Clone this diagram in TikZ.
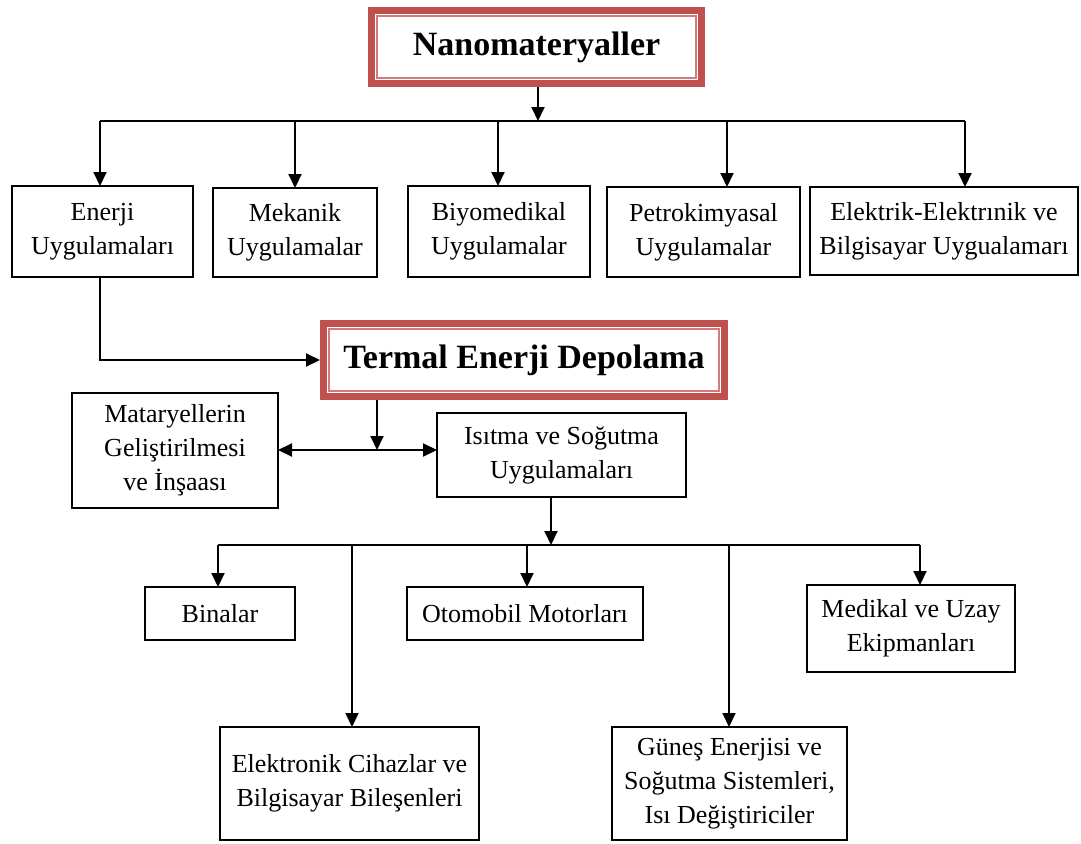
\documentclass[tikz,border=0pt]{standalone}
\usepackage{fontspec}
\setmainfont{Liberation Serif}
\usetikzlibrary{arrows.meta}
\definecolor{frame}{RGB}{192,80,77}
\begin{document}
\begin{tikzpicture}[x=1pt,y=-1pt,
  box/.style={draw, line width=2.2pt, align=center, inner sep=0pt, outer sep=0pt,
    font=\fontsize{26}{34}\selectfont},
  title/.style={draw=frame, line width=7pt, align=center, inner sep=0pt,
    font=\fontsize{34}{40}\selectfont\bfseries},
  inner/.style={draw=frame!75, line width=1.6pt},
  conn/.style={line width=2pt},
  arr/.style={line width=2pt, -{Triangle[width=13pt,length=14pt]}},
  darr/.style={line width=2pt, {Triangle[width=13pt,length=14pt]}-{Triangle[width=13pt,length=14pt]}}]
\useasboundingbox (0,0) rectangle (1081,843);
\fill[white] (0,0) rectangle (1081,843);

% titles
\node[title, minimum width=330pt, minimum height=73pt] (nano) at (536.5,47) {Nanomateryaller};
\draw[inner] ([shift={(9pt,-9pt)}]nano.north west) rectangle ([shift={(-9pt,9pt)}]nano.south east);
\node[title, minimum width=401pt, minimum height=73pt] (termal) at (524,360) {Termal Enerji Depolama};
\draw[inner] ([shift={(9pt,-9pt)}]termal.north west) rectangle ([shift={(-9pt,9pt)}]termal.south east);

% row 1
\node[box, minimum width=181pt, minimum height=91pt] (enerji) at (102.5,231.5) {Enerji\\Uygulamaları};
\node[box, minimum width=164pt, minimum height=89pt] (mekanik) at (295,232.5) {Mekanik\\Uygulamalar};
\node[box, minimum width=182pt, minimum height=91pt] (biyo) at (499,231.5) {Biyomedikal\\Uygulamalar};
\node[box, minimum width=193pt, minimum height=90pt] (petro) at (703.5,232) {Petrokimyasal\\Uygulamalar};
\node[box, minimum width=268pt, minimum height=88pt] (elek) at (944,231) {Elektrik-Elektrınik ve\\Bilgisayar Uygualamarı};

% row 2
\node[box, minimum width=206pt, minimum height=115pt] (matar) at (175,450.5) {Mataryellerin\\Geliştirilmesi\\ve İnşaası};
\node[box, minimum width=249pt, minimum height=84pt] (isitma) at (561.5,455) {Isıtma ve Soğutma\\Uygulamaları};

% row 3
\node[box, minimum width=150pt, minimum height=53pt] (binalar) at (220,613.5) {Binalar};
\node[box, minimum width=236pt, minimum height=53pt] (oto) at (525,613.5) {Otomobil Motorları};
\node[box, minimum width=208pt, minimum height=87pt] (medikal) at (911,628.5) {Medikal ve Uzay\\Ekipmanları};
\node[box, minimum width=259pt, minimum height=113pt] (elektronik) at (349.5,783.5) {Elektronik Cihazlar ve\\Bilgisayar Bileşenleri};
\node[box, minimum width=235pt, minimum height=113pt] (gunes) at (729.5,783.5) {Güneş Enerjisi ve\\Soğutma Sistemleri,\\Isı Değiştiriciler};

% bus 1
\coordinate (t1) at (538,121);
\coordinate (b1) at (100,121);
\coordinate (b2) at (295,121);
\coordinate (b3) at (498,121);
\coordinate (b4) at (727,121);
\coordinate (b5) at (965,121);
\draw[arr] (nano.south -| t1) -- (t1);
\draw[conn] (b1) -- (b5);
\foreach \b/\n in {b1/enerji,b2/mekanik,b3/biyo,b4/petro,b5/elek}
  \draw[arr] (\b) -- (\b |- \n.north);

% enerji -> termal
\draw[arr] (enerji.south -| b1) |- (termal.west);

% termal -> split
\coordinate (hm) at (377,450);
\draw[arr] (termal.south -| hm) -- (hm);
\draw[darr] (matar.east |- hm) -- (isitma.west |- hm);

% bus 2
\coordinate (t2) at (551,545);
\coordinate (c1) at (218,545);
\coordinate (c2) at (352,545);
\coordinate (c3) at (527,545);
\coordinate (c4) at (729,545);
\coordinate (c5) at (920,545);
\draw[arr] (isitma.south -| t2) -- (t2);
\draw[conn] (c1) -- (c5);
\foreach \c/\n in {c1/binalar,c2/elektronik,c3/oto,c4/gunes,c5/medikal}
  \draw[arr] (\c) -- (\c |- \n.north);
\end{tikzpicture}
\end{document}
